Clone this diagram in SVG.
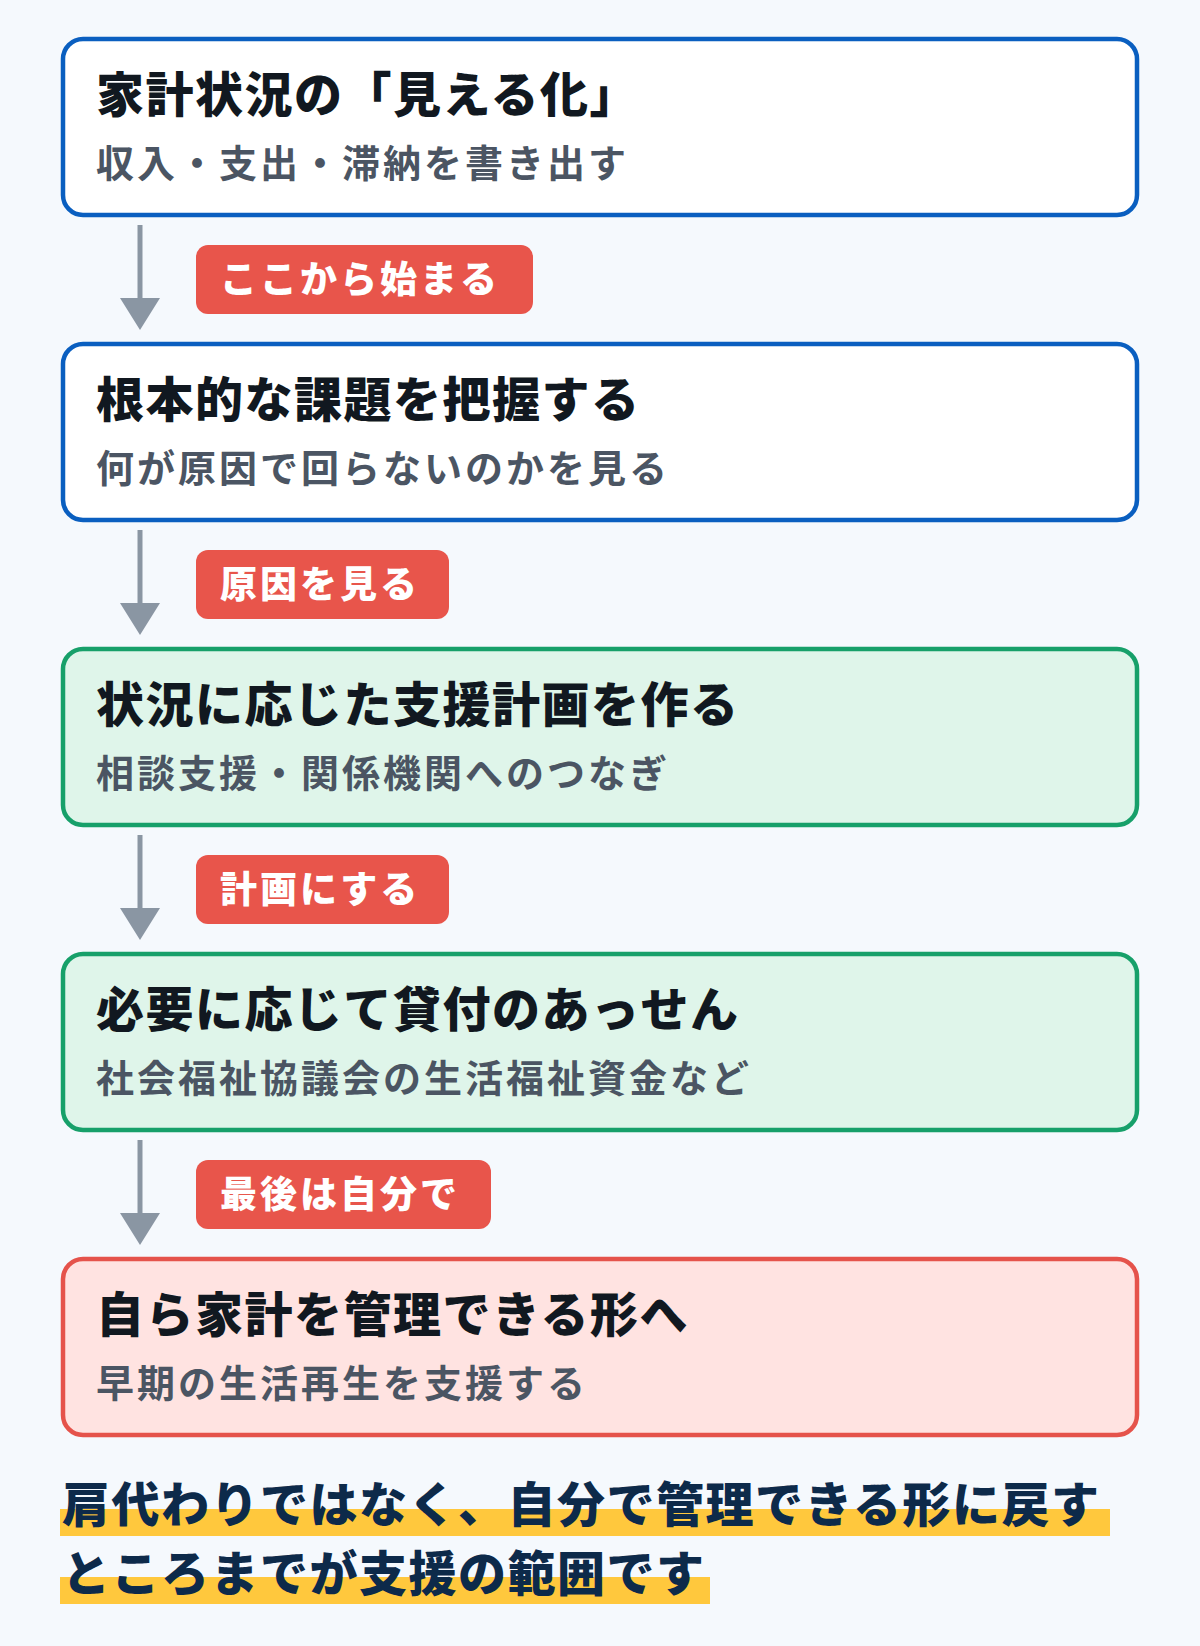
<svg xmlns="http://www.w3.org/2000/svg" width="1200" height="1646" viewBox="0 0 1200 1646">
<defs>
<style>
text{font-family:"Noto Sans CJK JP","Noto Sans",sans-serif}
.t{font-size:48px;font-weight:900;fill:#111820;letter-spacing:1.5px}
.s{font-size:38px;font-weight:700;fill:#4b5563;letter-spacing:3px}
.p{fill:#e8554b}
.pt{font-size:37px;font-weight:900;fill:#fff;letter-spacing:3px}
.blue{fill:#fff;stroke:#0a5fc0;stroke-width:4.5}
.green{fill:#dff5ea;stroke:#17a06a;stroke-width:4.5}
.red{fill:#ffe3e1;stroke:#e5534b;stroke-width:4.5}
.b{font-size:48px;font-weight:900;fill:#0d2a4a;letter-spacing:1.5px}
.hl{fill:#ffc83d}
</style>
<marker id="ah" markerWidth="8" markerHeight="6" refX="0" refY="3" orient="auto" markerUnits="strokeWidth"><path d="M0,0 L7,3 L0,6 z" fill="#8a96a3"/></marker>
</defs>
<rect width="1200" height="1646" fill="#f5f9fd"/>
<g id="connectors" stroke="#8a96a3" stroke-width="5" fill="#8a96a3">
<line x1="140" y1="225" x2="140" y2="300"/><path d="M120,298 L160,298 L140,330 z" stroke="none"/>
<line x1="140" y1="530" x2="140" y2="605"/><path d="M120,603 L160,603 L140,635 z" stroke="none"/>
<line x1="140" y1="835" x2="140" y2="910"/><path d="M120,908 L160,908 L140,940 z" stroke="none"/>
<line x1="140" y1="1140" x2="140" y2="1215"/><path d="M120,1213 L160,1213 L140,1245 z" stroke="none"/>
</g>
<g id="labels">
<rect class="p" x="196" y="245" width="337" height="69" rx="12"/><text class="pt" x="220" y="293">ここから始まる</text>
<rect class="p" x="196" y="550" width="253" height="69" rx="12"/><text class="pt" x="220" y="598">原因を見る</text>
<rect class="p" x="196" y="855" width="253" height="69" rx="12"/><text class="pt" x="220" y="903">計画にする</text>
<rect class="p" x="196" y="1160" width="295" height="69" rx="12"/><text class="pt" x="220" y="1208">最後は自分で</text>
</g>
<g id="n1"><rect class="blue" x="63" y="39" width="1074" height="176" rx="20"/><text class="t" x="96" y="112">家計状況の「見える化」</text><text class="s" x="96" y="177">収入・支出・滞納を書き出す</text></g>
<g id="n2"><rect class="blue" x="63" y="344" width="1074" height="176" rx="20"/><text class="t" x="96" y="417">根本的な課題を把握する</text><text class="s" x="96" y="482">何が原因で回らないのかを見る</text></g>
<g id="n3"><rect class="green" x="63" y="649" width="1074" height="176" rx="20"/><text class="t" x="96" y="722">状況に応じた支援計画を作る</text><text class="s" x="96" y="787">相談支援・関係機関へのつなぎ</text></g>
<g id="n4"><rect class="green" x="63" y="954" width="1074" height="176" rx="20"/><text class="t" x="96" y="1027">必要に応じて貸付のあっせん</text><text class="s" x="96" y="1092">社会福祉協議会の生活福祉資金など</text></g>
<g id="n5"><rect class="red" x="63" y="1259" width="1074" height="176" rx="20"/><text class="t" x="96" y="1332">自ら家計を管理できる形へ</text><text class="s" x="96" y="1397">早期の生活再生を支援する</text></g>
<g id="note">
<rect class="hl" x="60" y="1509" width="1050" height="27"/>
<rect class="hl" x="60" y="1577" width="650" height="27"/>
<text class="b" x="62" y="1522">肩代わりではなく、自分で管理できる形に戻す</text>
<text class="b" x="62" y="1591">ところまでが支援の範囲です</text>
</g>
</svg>
